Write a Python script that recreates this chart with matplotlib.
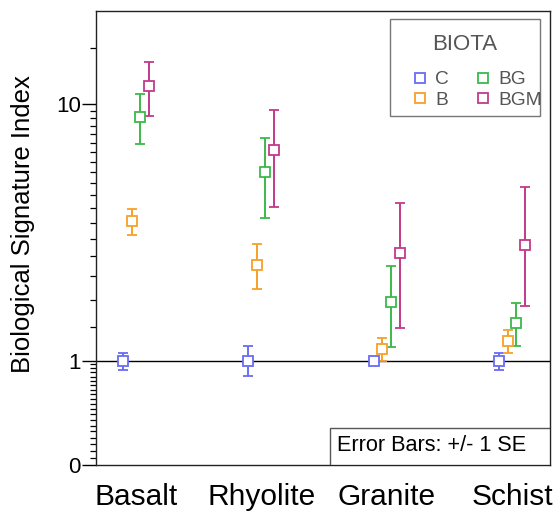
"""Biyolojik imza indeksi - kaya tipine göre BIOTA grupları, ±1 SE hata çubukları."""
import numpy as np
import matplotlib
matplotlib.use("Agg")
import matplotlib.pyplot as plt
from matplotlib.lines import Line2D
from matplotlib.patches import Rectangle
from matplotlib.ticker import FixedLocator, FixedFormatter

plt.rcParams["font.family"] = ["Liberation Sans", "DejaVu Sans"]

kayalar = ["Basalt", "Rhyolite", "Granite", "Schist"]
gruplar = ["C", "B", "BG", "BGM"]
renkler = ["#6a6cf5", "#f7a02a", "#3cb94a", "#c23a8a"]

# ortalama, alt ve üst hata sınırı (okunan değerler)
c_ort = [1.00, 1.00, 1.00, 1.00]
c_alt = [0.88, 0.81, 0.97, 0.88]
c_ust = [1.10, 1.20, 1.03, 1.10]

b_ort = [4.05, 2.78, 1.16, 1.28]
b_alt = [3.60, 2.21, 1.00, 1.11]
b_ust = [4.49, 3.33, 1.33, 1.45]

bg_ort = [9.09, 5.98, 1.96, 1.56]
bg_alt = [7.41, 4.16, 1.19, 1.20]
bg_ust = [10.76, 7.79, 2.74, 1.94]

bgm_ort = [11.41, 7.08, 3.10, 3.31]
bgm_alt = [9.16, 4.54, 1.48, 1.87]
bgm_ust = [13.55, 9.57, 4.70, 5.32]

veriler = [
    (c_ort, c_alt, c_ust),
    (b_ort, b_alt, b_ust),
    (bg_ort, bg_alt, bg_ust),
    (bgm_ort, bgm_alt, bgm_ust),
]
kaydirma = [-0.103, -0.034, 0.034, 0.103]


def ileri(y):
    return np.log10(1 + np.maximum(y, -0.9999))


def geri(y):
    return 10 ** y - 1


fig = plt.figure(figsize=(5.54, 5.11), dpi=100)
ax = fig.add_axes([0.1733, 0.090, 0.8195, 0.8885])
ax.set_yscale("function", functions=(ileri, geri))

x = np.arange(1, len(kayalar) + 1)
for (ort, alt, ust), renk, dx in zip(veriler, renkler, kaydirma):
    ort = np.array(ort)
    hata = [ort - np.array(alt), np.array(ust) - ort]
    ax.errorbar(x + dx, ort, yerr=hata, fmt="s", color=renk, mfc="white",
                mec=renk, mew=1.3, ms=7.5, elinewidth=1.4, capsize=3.8,
                capthick=1.4, zorder=3)

ax.axhline(1, color="black", linewidth=1.0, zorder=2)

ax.set_xlim(0.683, 4.303)
ax.set_ylim(0, 19.4)

ax.yaxis.set_major_locator(FixedLocator([0, 1, 10]))
ax.yaxis.set_major_formatter(FixedFormatter(["0", "1", "10"]))
minor = list(np.arange(0.05, 1.0, 0.05)) + list(np.arange(1.5, 10, 0.5)) + [15]
ax.yaxis.set_minor_locator(FixedLocator(minor))
ax.tick_params(axis="y", which="major", length=10, width=1, labelsize=16, pad=1)
ax.tick_params(axis="y", which="minor", length=4.3, width=0.9)

ax.set_xticks(x)
ax.set_xticklabels(kayalar)
ax.tick_params(axis="x", length=0, labelsize=21.5, pad=13)

ax.set_ylabel("Biological Signature Index", fontsize=18.5)
ax.yaxis.set_label_coords(-0.135, 0.53)

for s in ax.spines.values():
    s.set_color("#222222")
    s.set_linewidth(1.0)

# Lejant: çerçeve ve başlık ayrı, girdiler legend ile
ax.add_patch(Rectangle((0.6476, 0.7687), 0.3304, 0.2137, transform=ax.transAxes,
                       facecolor="white", edgecolor="#777777", linewidth=1.0,
                       zorder=4, clip_on=False))
ax.text(0.8128, 0.927, "BIOTA", transform=ax.transAxes, ha="center",
        va="center", fontsize=16, color="#555555", zorder=5)
tutamac = [Line2D([], [], linestyle="none", marker="s", ms=6.5, mfc="white",
                  mec=r, mew=1.3, label=g) for g, r in zip(gruplar, renkler)]
leg = ax.legend(handles=tutamac, ncol=2, loc="upper left",
                bbox_to_anchor=(0.7013, 0.868), fontsize=13.8, frameon=False,
                handlelength=0.6, handletextpad=0.5, columnspacing=1.45,
                borderpad=0, borderaxespad=0, labelspacing=0.15)
leg.set_zorder(6)
for t in leg.get_texts():
    t.set_color("#555555")

# Hata çubuğu notu
ax.add_patch(Rectangle((0.5154, 0), 0.4846, 0.0815, transform=ax.transAxes,
                       facecolor="white", edgecolor="#555555", linewidth=1.0,
                       zorder=4))
ax.text(0.5308, 0.0419, "Error Bars: +/- 1 SE", transform=ax.transAxes,
        ha="left", va="center", fontsize=15.6, zorder=5)

plt.savefig("out.png", dpi=100)
